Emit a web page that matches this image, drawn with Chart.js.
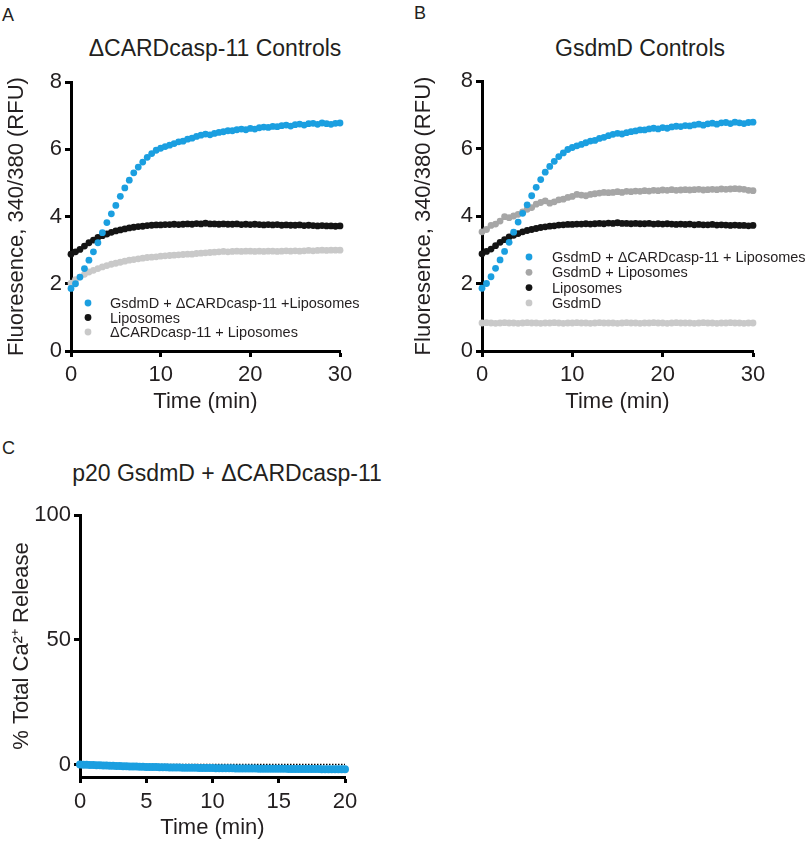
<!DOCTYPE html>
<html>
<head>
<meta charset="utf-8">
<script src="https://cdn.jsdelivr.net/npm/chart.js@4.4.1/dist/chart.umd.min.js"></script>
<style>
  html, body { margin: 0; padding: 0; background: #fff; }
  body { width: 805px; height: 848px; position: relative; overflow: hidden;
         font-family: "Liberation Sans", Arial, Helvetica, sans-serif; color: #231f20; }
  .lbl { position: absolute; white-space: nowrap; line-height: 1; }
  .letter { font-size: 18px; }
  .title { font-size: 23px; transform: translate(-50%, -50%); }
  canvas { position: absolute; }
</style>
</head>
<body>
<div class="lbl letter" style="left:2px; top:6px;">A</div>
<div class="lbl letter" style="left:414px; top:4px;">B</div>
<div class="lbl letter" style="left:2px; top:439px;">C</div>
<div class="lbl title" style="left:215px; top:48px;">ΔCARDcasp-11 Controls</div>
<div class="lbl title" style="left:640px; top:48px;">GsdmD Controls</div>
<div class="lbl title" style="left:227px; top:473px;">p20 GsdmD + ΔCARDcasp-11</div>

<canvas id="chartA" width="400" height="420" style="left:0; top:0;"></canvas>
<canvas id="chartB" width="405" height="420" style="left:400px; top:0;"></canvas>
<canvas id="chartC" width="400" height="418" style="left:0; top:430px;"></canvas>

<script>
// ---------- DATA ----------
const timeAB = [0,0.5,1,1.5,2,2.5,3,3.5,4,4.5,5,5.5,6,6.5,7,7.5,8,8.5,9,9.5,10,10.5,11,11.5,12,12.5,13,13.5,14,14.5,15,15.5,16,16.5,17,17.5,18,18.5,19,19.5,20,20.5,21,21.5,22,22.5,23,23.5,24,24.5,25,25.5,26,26.5,27,27.5,28,28.5,29,29.5,30];

const gsdmdCaspLipo = [1.86,2.0,2.2,2.45,2.7,2.95,3.22,3.52,3.82,4.08,4.33,4.6,4.85,5.08,5.3,5.47,5.62,5.76,5.87,5.97,6.03,6.08,6.12,6.17,6.22,6.24,6.3,6.33,6.38,6.42,6.45,6.43,6.47,6.5,6.52,6.55,6.55,6.58,6.6,6.58,6.62,6.6,6.64,6.66,6.65,6.68,6.67,6.7,6.72,6.69,6.73,6.75,6.72,6.76,6.77,6.74,6.78,6.76,6.74,6.77,6.78];

const liposomes = [2.88,2.95,3.02,3.12,3.22,3.3,3.38,3.43,3.48,3.53,3.57,3.6,3.63,3.66,3.68,3.7,3.71,3.73,3.74,3.75,3.75,3.76,3.76,3.77,3.76,3.77,3.78,3.77,3.79,3.78,3.8,3.78,3.78,3.77,3.78,3.77,3.77,3.78,3.76,3.77,3.76,3.77,3.76,3.75,3.76,3.75,3.76,3.74,3.75,3.74,3.74,3.75,3.73,3.74,3.73,3.72,3.73,3.72,3.72,3.71,3.72];

const caspLipo = [2.02,2.12,2.2,2.28,2.35,2.4,2.45,2.5,2.54,2.58,2.61,2.64,2.67,2.7,2.72,2.74,2.76,2.78,2.79,2.8,2.82,2.83,2.84,2.85,2.86,2.87,2.88,2.88,2.9,2.91,2.92,2.93,2.94,2.95,2.96,2.95,2.96,2.97,2.96,2.97,2.97,2.96,2.97,2.96,2.97,2.97,2.96,2.97,2.98,2.97,2.98,2.97,2.98,2.99,2.98,2.99,3.0,2.99,3.0,3.0,3.0];

const gsdmdLipo = [3.53,3.6,3.72,3.76,3.85,3.98,3.95,4.0,4.05,4.12,4.2,4.25,4.35,4.4,4.45,4.38,4.42,4.48,4.5,4.55,4.58,4.64,4.62,4.6,4.64,4.66,4.68,4.7,4.69,4.7,4.72,4.7,4.73,4.72,4.74,4.73,4.75,4.74,4.76,4.75,4.77,4.76,4.78,4.76,4.77,4.78,4.77,4.78,4.79,4.77,4.78,4.79,4.78,4.8,4.79,4.8,4.81,4.8,4.79,4.76,4.75];

const gsdmdOnly = [0.83,0.84,0.83,0.82,0.83,0.84,0.83,0.83,0.82,0.83,0.84,0.83,0.83,0.82,0.83,0.83,0.84,0.83,0.82,0.83,0.83,0.84,0.83,0.83,0.82,0.83,0.84,0.83,0.83,0.83,0.82,0.83,0.84,0.83,0.83,0.82,0.83,0.83,0.84,0.83,0.83,0.82,0.83,0.84,0.83,0.83,0.83,0.82,0.83,0.84,0.83,0.83,0.82,0.83,0.83,0.84,0.83,0.83,0.82,0.83,0.83];

const timeC = [0,0.25,0.5,0.75,1,1.25,1.5,1.75,2,2.25,2.5,2.75,3,3.25,3.5,3.75,4,4.25,4.5,4.75,5,5.25,5.5,5.75,6,6.25,6.5,6.75,7,7.25,7.5,7.75,8,8.25,8.5,8.75,9,9.25,9.5,9.75,10,10.25,10.5,10.75,11,11.25,11.5,11.75,12,12.25,12.5,12.75,13,13.25,13.5,13.75,14,14.25,14.5,14.75,15,15.25,15.5,15.75,16,16.25,16.5,16.75,17,17.25,17.5,17.75,18,18.25,18.5,18.75,19,19.25,19.5,19.75,20];

const p20Release = [0.05,-0.08,-0.12,-0.2,-0.22,-0.3,-0.33,-0.4,-0.42,-0.5,-0.52,-0.58,-0.62,-0.66,-0.7,-0.75,-0.78,-0.82,-0.86,-0.9,-0.95,
-0.98,-1.0,-1.04,-1.07,-1.1,-1.12,-1.15,-1.18,-1.2,-1.22,-1.25,-1.27,-1.3,-1.32,-1.33,-1.36,-1.38,-1.4,-1.42,-1.44,
-1.45,-1.47,-1.48,-1.5,-1.52,-1.53,-1.55,-1.56,-1.58,-1.6,-1.6,-1.62,-1.63,-1.65,-1.66,-1.67,-1.68,-1.7,-1.7,-1.72,
-1.73,-1.74,-1.75,-1.76,-1.77,-1.78,-1.78,-1.8,-1.8,-1.82,-1.83,-1.83,-1.85,-1.85,-1.86,-1.87,-1.88,-1.88,-1.9,-1.9];

const baselineTime = [0, 20];
const baselineValue = [0, 0];

const xTicksAB = [0, 10, 20, 30];
const yTicksAB = [0, 2, 4, 6, 8];
const xTicksC = [0, 5, 10, 15, 20];
const yTicksC = [0, 50, 100];

const labelsA = ['GsdmD + ΔCARDcasp-11 +Liposomes', 'Liposomes', 'ΔCARDcasp-11 + Liposomes'];
const labelsB = ['GsdmD + ΔCARDcasp-11 + Liposomes', 'GsdmD + Liposomes', 'Liposomes', 'GsdmD'];

// ---------- STYLE ----------
const FONT = '"Liberation Sans", Arial, Helvetica, sans-serif';
const TEXT = '#231f20';
const BLUE = '#1b9fe0', BLACK = '#141414', LIGHT = '#c9c9c9', MID = '#a6a6a6';

function pts(xs, ys) { return xs.map((x, i) => ({ x: x, y: ys[i] })); }

function dots(label, xs, ys, color, r) {
  return { type: 'scatter', label: label, data: pts(xs, ys), backgroundColor: color,
           borderWidth: 0, pointRadius: r || 3.4, pointHoverRadius: r || 3.4, showLine: false, clip: false };
}

const insideLegend = {
  id: 'insideLegend',
  afterDatasetsDraw(chart, args, o) {
    if (!o || !o.show) return;
    const ctx = chart.ctx;
    ctx.save();
    ctx.font = o.fontSize + 'px ' + FONT;
    ctx.textBaseline = 'middle';
    ctx.textAlign = 'left';
    let y = o.y;
    chart.data.datasets.forEach(ds => {
      if (ds.noLegend) return;
      ctx.beginPath();
      ctx.fillStyle = ds.backgroundColor;
      ctx.arc(o.markerX, y, o.r, 0, Math.PI * 2);
      ctx.fill();
      ctx.fillStyle = TEXT;
      ctx.fillText(ds.label, o.textX, y + 1);
      y += o.step;
    });
    ctx.restore();
  }
};

function axis(min, max, ticks, title, size, isY, tickPad) {
  return {
    type: 'linear', min: min, max: max,
    afterFit: s => { if (isY) s.width = size; else s.height = size; },
    afterBuildTicks: s => { s.ticks = ticks.map(v => ({ value: v })); },
    border: { display: true, color: '#000', width: 3 },
    grid: { display: true, drawOnChartArea: false, drawTicks: true, tickLength: 6, tickWidth: 3, tickColor: '#000' },
    ticks: { color: TEXT, font: { family: FONT, size: 22 }, padding: tickPad, maxRotation: 0, autoSkip: false },
    title: { display: true, text: title, color: TEXT, font: { family: FONT, size: 22 }, padding: { top: 4, bottom: 4 } }
  };
}

function makeChart(id, datasets, xs, ys, pad, legend) {
  return new Chart(document.getElementById(id), {
    type: 'scatter',
    data: { datasets: datasets },
    options: {
      responsive: false, animation: false, devicePixelRatio: 1,
      layout: { padding: pad },
      plugins: { legend: { display: false }, tooltip: { enabled: false }, insideLegend: legend },
      scales: { x: xs, y: ys }
    },
    plugins: [insideLegend]
  });
}

// Panel A
makeChart('chartA', [
  dots(labelsA[0], timeAB, gsdmdCaspLipo, BLUE),
  dots(labelsA[1], timeAB, liposomes, BLACK),
  dots(labelsA[2], timeAB, caspLipo, LIGHT)
],
  axis(0, 30, xTicksAB, 'Time (min)', 68, false, 5),
  axis(0, 8, yTicksAB, 'Fluoresence, 340/380 (RFU)', 71, true, 3),
  { left: 0, right: 60, top: 82, bottom: 1 },
  { show: true, fontSize: 14.5, markerX: 88, textX: 110, y: 303, step: 14.5, r: 3.4 });

// Panel B
makeChart('chartB', [
  dots(labelsB[0], timeAB, gsdmdCaspLipo, BLUE),
  dots(labelsB[1], timeAB, gsdmdLipo, MID),
  dots(labelsB[2], timeAB, liposomes, BLACK),
  dots(labelsB[3], timeAB, gsdmdOnly, LIGHT)
],
  axis(0, 30, xTicksAB, 'Time (min)', 68, false, 5),
  axis(0, 8, yTicksAB, 'Fluoresence, 340/380 (RFU)', 75, true, 3),
  { left: 7, right: 52, top: 81, bottom: 1 },
  { show: true, fontSize: 14.5, markerX: 129, textX: 152, y: 257, step: 15.3, r: 3.4 });

// Panel C
const baseline = { type: 'line', label: 'baseline', data: pts(baselineTime, baselineValue), borderColor: '#000',
                   borderWidth: 1.5, borderDash: [1.5, 1.5], pointRadius: 0, noLegend: true, clip: false };
makeChart('chartC', [
  dots('p20 GsdmD + ΔCARDcasp-11', timeC, p20Release, BLUE, 4),
  baseline
],
  axis(0, 20, xTicksC, 'Time (min)', 68, false, 6),
  axis(-5, 100, yTicksC, '% Total Ca²⁺ Release', 75, true, 3),
  { left: 5, right: 55, top: 85, bottom: 3 },
  { show: false });
</script>
</body>
</html>
